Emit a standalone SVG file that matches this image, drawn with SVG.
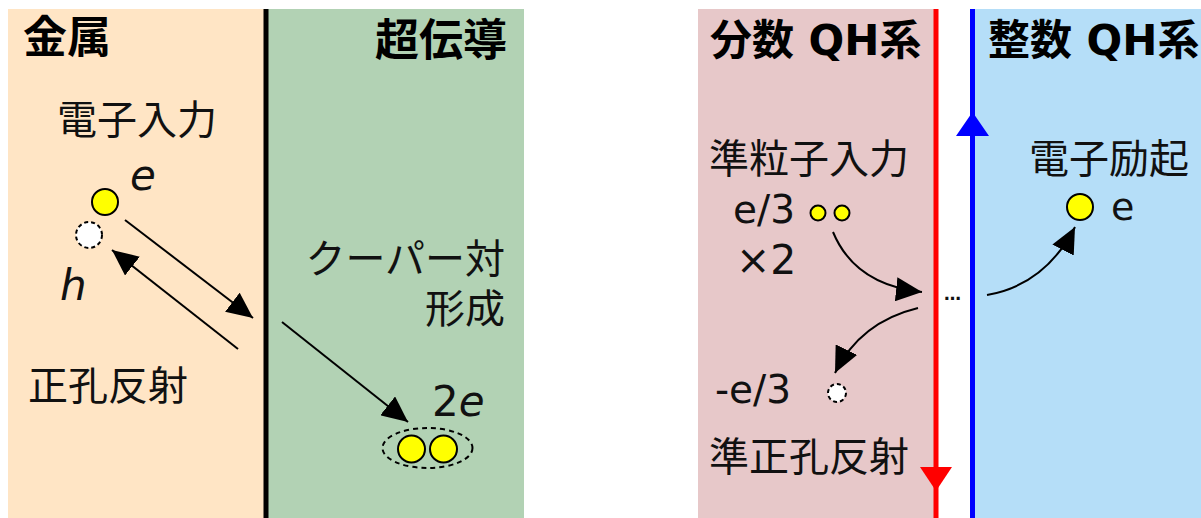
<svg xmlns="http://www.w3.org/2000/svg" width="1201" height="518" viewBox="0 0 1201 518">
<style>
.t{font-family:"Noto Sans CJK JP","DejaVu Sans",sans-serif;font-size:40px;fill:#111}
.b{font-family:"DejaVu Sans","Noto Sans CJK JP",sans-serif;font-size:42px;font-weight:bold;fill:#000}
.bj{font-size:44px}
.l{font-family:"DejaVu Sans",sans-serif;fill:#111}
.y{fill:#FFFF00;stroke:#000;stroke-width:2}
.h{fill:#fff;stroke:#000;stroke-width:2;stroke-dasharray:4 3}
.c{fill:none;stroke:#000;stroke-width:2}
</style>
<defs>
<marker id="ah" markerUnits="userSpaceOnUse" markerWidth="28" markerHeight="24" refX="26" refY="12" orient="auto">
<path d="M0,0 L26,12 L0,24 Z" fill="#000"/>
</marker>
</defs>
<rect width="1201" height="518" fill="#fff"/>
<g id="metal">
<rect x="8" y="9" width="258" height="509" fill="#FFE5C5"/>
<text class="b bj" x="23" y="53">金属</text>
<text class="t" x="57" y="134">電子入力</text>
<text class="l" x="130" y="190" font-size="42" font-style="italic">e</text>
<circle class="y" cx="105" cy="202" r="13"/>
<circle class="h" cx="89" cy="235" r="13"/>
<text class="l" x="60" y="300" font-size="42" font-style="italic">h</text>
<text class="t" x="28" y="400">正孔反射</text>
</g>
<g id="superconductor">
<rect x="266" y="9" width="258" height="509" fill="#B2D2B4"/>
<text class="b bj" x="507" y="56" text-anchor="end">超伝導</text>
<text class="t" x="505" y="273" text-anchor="end">クーパー対</text>
<text class="t" x="505" y="323" text-anchor="end">形成</text>
<text class="l" x="432" y="416" font-size="42">2<tspan font-style="italic">e</tspan></text>
<ellipse cx="427.5" cy="448" rx="45" ry="20" fill="none" stroke="#000" stroke-width="2" stroke-dasharray="5 4"/>
<circle class="y" cx="411.5" cy="449" r="13.5"/>
<circle class="y" cx="443.5" cy="449" r="13.5"/>
</g>
<line id="interface-left" x1="266" y1="9" x2="266" y2="518" stroke="#000" stroke-width="5"/>
<g id="fqh">
<rect x="698" y="9" width="238" height="509" fill="#E7C8C9"/>
<text class="b" x="710" y="55">分数 QH系</text>
<text class="t" x="709" y="173">準粒子入力</text>
<text class="l" x="733" y="223" font-size="39">e/3</text>
<circle class="y" cx="818" cy="213" r="7.5" stroke-width="1.5"/>
<circle class="y" cx="842" cy="213" r="7.5" stroke-width="1.5"/>
<text class="l" x="736" y="274" font-size="41">×2</text>
<text class="l" x="715" y="403" font-size="39">-e/3</text>
<circle class="h" cx="837" cy="393" r="9" stroke-width="1.5" stroke-dasharray="2 2"/>
<text class="t" x="709" y="471">準正孔反射</text>
</g>
<g id="iqh">
<rect x="973" y="9" width="228" height="509" fill="#B5DEF8"/>
<text class="b" x="988" y="55">整数 QH系</text>
<text class="t" x="1029" y="173">電子励起</text>
<circle class="y" cx="1080" cy="207" r="13"/>
<text class="l" x="1111" y="220" font-size="38">e</text>
</g>
<g id="edges">
<line x1="936" y1="9" x2="936" y2="518" stroke="#FF0000" stroke-width="5"/>
<path d="M920,467 L952,467 L936,491 Z" fill="#FF0000"/>
<line x1="972.5" y1="9" x2="972.5" y2="518" stroke="#0000FF" stroke-width="5"/>
<path d="M956,136 L989,136 L972.5,112 Z" fill="#0000FF"/>
<text class="l" x="944" y="300" font-size="17" font-weight="bold">…</text>
</g>
<g id="connectors">
<line class="c" x1="125" y1="220" x2="253" y2="318" marker-end="url(#ah)"/>
<line class="c" x1="238" y1="349" x2="112" y2="250" marker-end="url(#ah)"/>
<line class="c" x1="282" y1="322" x2="408" y2="422" marker-end="url(#ah)"/>
<path class="c" d="M833,232 Q855,285 922,292" marker-end="url(#ah)"/>
<path class="c" d="M918,308 Q860,322 835,373" marker-end="url(#ah)"/>
<path class="c" d="M987,295 Q1045,285 1075,227" marker-end="url(#ah)"/>
</g>
</svg>
